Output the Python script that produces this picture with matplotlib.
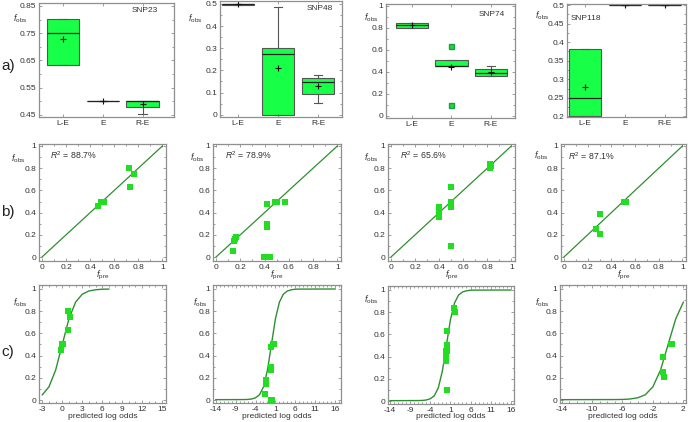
import matplotlib
matplotlib.use('Agg')
import matplotlib.pyplot as plt
import matplotlib.ticker as mticker

plt.rcParams['font.family'] = ['Liberation Sans', 'DejaVu Sans']
plt.rcParams['mathtext.fontset'] = 'custom'
plt.rcParams['mathtext.rm'] = 'Liberation Sans'
plt.rcParams['mathtext.it'] = 'Liberation Sans:italic'

W, H = 690, 422

# ---------------- data ----------------
groups = ['L-E', 'E', 'R-E']
snps = ['SNP23', 'SNP48', 'SNP74', 'SNP118']

# box stats per group: (whisker low, q1, median, q3, whisker high, mean)
snp23_box = [(0.634, 0.634, 0.75, 0.801, 0.801, 0.728),
             (0.50, 0.50, 0.50, 0.50, 0.50, 0.50),
             (0.453, 0.478, 0.50, 0.50, 0.50, 0.489)]
snp48_box = [(0.497, 0.497, 0.50, 0.50, 0.50, 0.50),
             (0.0, 0.0, 0.273, 0.30, 0.488, 0.21),
             (0.052, 0.095, 0.146, 0.165, 0.18, 0.13)]
snp74_box = [(0.796, 0.796, 0.83, 0.842, 0.842, 0.826),
             (0.455, 0.455, 0.455, 0.504, 0.504, 0.446),
             (0.364, 0.364, 0.385, 0.425, 0.455, 0.40)]
snp118_box = [(0.20, 0.20, 0.25, 0.382, 0.382, 0.278),
              (0.50, 0.50, 0.50, 0.50, 0.50, 0.50),
              (0.50, 0.50, 0.50, 0.50, 0.50, 0.50)]
snp74_fliers = [[], [0.637, 0.102], []]

# observed vs predicted frequencies
snp23_pre = [0.724, 0.763, 0.73, 0.468, 0.488, 0.515]
snp23_obs = [0.80, 0.75, 0.635, 0.455, 0.50, 0.50]
snp48_pre = [0.14, 0.152, 0.16, 0.166, 0.395, 0.406, 0.445, 0.423, 0.423, 0.423, 0.483, 0.50, 0.566]
snp48_obs = [0.05, 0.14, 0.162, 0.18, 0.0, 0.0, 0.0, 0.48, 0.30, 0.27, 0.50, 0.50, 0.50]
snp74_pre = [0.822, 0.826, 0.83, 0.40, 0.40, 0.40, 0.496, 0.496, 0.496, 0.496]
snp74_obs = [0.835, 0.80, 0.82, 0.45, 0.40, 0.36, 0.63, 0.50, 0.45, 0.10]
snp118_pre = [0.51, 0.52, 0.274, 0.30, 0.30]
snp118_obs = [0.50, 0.50, 0.255, 0.385, 0.205]
r2_labels = ['88.7%', '78.9%', '65.6%', '87.1%']

# log odds vs observed
snp23_lo = [-0.24, -0.09, 0.17, 0.82, 0.92, 1.17]
snp23_lo_obs = [0.45, 0.50, 0.50, 0.80, 0.635, 0.75]
snp48_lo = [-1.51, -1.45, -1.38, -1.3, -0.17, -0.17, -0.17, -0.09, 0.17, 0.5, 0.75]
snp48_lo_obs = [0.05, 0.14, 0.16, 0.18, 0.48, 0.30, 0.27, 0.0, 0.0, 0.50, 0.50]
snp74_lo = [1.9, 2.07, 0.25, 0.25, 0.25, -0.16, -0.16, -0.16, 0.25]
snp74_lo_obs = [0.835, 0.80, 0.63, 0.50, 0.45, 0.45, 0.40, 0.36, 0.10]
snp118_lo = [0.38, 0.56, -0.63, -0.72, -0.54]
snp118_lo_obs = [0.50, 0.50, 0.385, 0.255, 0.205]

# fitted curve
curve_lo = [-14, -7, -6, -5, -4, -3, -2, -1, 0, 1, 2, 3, 4, 5, 6, 7, 16]
curve_f = [0.003, 0.004, 0.005, 0.009, 0.02, 0.047, 0.119, 0.269, 0.50, 0.731,
           0.881, 0.953, 0.982, 0.993, 0.998, 0.999, 1.0]
curve_range = [(-3, 15), (-14, 16), (-14, 16), (-14, 2)]

# ---------------- layout ----------------
box_green = '#17ff46'
pt_green = '#22dd22'
line_green = '#2f8f2f'
frame = '#8f8f8f'
txt = '#333333'

a_rects = [(39, 3, 174, 117), (220, 1, 342, 117), (386, 4, 515, 118), (567, 4, 686, 117)]
b_rects = [(39, 144, 166, 261), (213, 144, 341, 261), (388, 144, 515, 261), (561, 144, 686, 261)]
c_rects = [(39, 285, 166, 403), (213, 285, 341, 403), (388, 286, 514, 404), (560, 285, 686, 403)]

a_xlims = [(0.4, 3.78), (0.55, 3.6), (0.34, 3.61), (0.55, 3.53)]
a_ylims = [(0.4415, 0.861), (-0.0105, 0.5135), (-0.021, 1.018), (0.1985, 0.5027)]
a_yticks = [[0.45, 0.55, 0.65, 0.75, 0.85], [0, 0.1, 0.2, 0.3, 0.4, 0.5],
            [0, 0.2, 0.4, 0.6, 0.8, 1], [0.2, 0.25, 0.3, 0.35, 0.4, 0.45, 0.5]]
c_xlims = [(-3.5, 15.6), (-14.7, 17.5), (-14.5, 16.8), (-14.2, 2.35)]
c_xticks = [[-3, 0, 3, 6, 9, 12, 15], [-14, -9, -4, 1, 6, 11, 16],
            [-14, -9, -4, 1, 6, 11, 16], [-14, -10, -6, -2, 2]]

fobs_a = [(-12, -16), (-18, -18), (-8, -14), (-18, -12)]
fobs_b = [(-14, -15), (-9, -14), (-10, -14), (-13, -12)]
fobs_c = [(-12, -18), (-6, -18), (-10, -14), (-11, -18)]
snp_pos = [(1, -16, -8, 'right'), (1, -9, -7, 'right'), (1, -10, -11, 'right'), (0, 4, -14, 'left')]
r2_pos = [(11, -11), (12, -11), (12, -11), (7, -12)]

fig = plt.figure(figsize=(W / 100, H / 100), dpi=100)


def add_px_axes(r):
    x0, y0, x1, y1 = r
    return fig.add_axes([x0 / W, 1 - y1 / H, (x1 - x0) / W, (y1 - y0) / H])


def style(ax, minor_x=True):
    for s in ax.spines.values():
        s.set_color(frame)
        s.set_linewidth(0.9)
    ax.tick_params(which='both', direction='in', top=True, right=True, color=frame,
                   width=0.6, labelsize=6, labelcolor=txt, pad=2)
    ax.tick_params(which='major', length=2.5)
    ax.tick_params(which='minor', length=1.5)
    ax.yaxis.set_minor_locator(mticker.AutoMinorLocator(2))
    if minor_x:
        ax.xaxis.set_minor_locator(mticker.AutoMinorLocator(2))
    ax.yaxis.set_major_formatter(mticker.FormatStrFormatter('%g'))


def put(ax, s, ax_x, ax_y, dx, dy, ha, size=6):
    ax.annotate(s, xy=(ax_x, ax_y), xycoords='axes fraction', xytext=(dx, dy),
                textcoords='offset pixels', ha=ha, va='center', fontsize=size, color=txt)


fobs = r'$f_{\rm obs}$'

# row a: box plots
box_sets = [snp23_box, snp48_box, snp74_box, snp118_box]
flier_sets = [[[], [], []], [[], [], []], snp74_fliers, [[], [], []]]
for i in range(4):
    ax = add_px_axes(a_rects[i])
    stats = []
    for s, fl in zip(box_sets[i], flier_sets[i]):
        lo, q1, med, q3, hi, mean = s
        stats.append(dict(whislo=lo, q1=q1, med=med, q3=q3, whishi=hi, mean=mean, fliers=fl))
    ax.bxp(stats, positions=[1, 2, 3], widths=0.82, patch_artist=True, showmeans=True,
           capwidths=0.22, manage_ticks=False,
           boxprops=dict(facecolor=box_green, edgecolor='#555555', linewidth=0.8),
           medianprops=dict(color='#222222', linewidth=0.9),
           whiskerprops=dict(color='#555555', linewidth=0.8),
           capprops=dict(color='#555555', linewidth=0.8),
           meanprops=dict(marker='+', markeredgecolor='#111111', markersize=4, markeredgewidth=0.8),
           flierprops=dict(marker='s', markerfacecolor=pt_green, markeredgecolor='#1a9a55',
                           markersize=3.6))
    ax.set_xlim(*a_xlims[i])
    ax.set_ylim(*a_ylims[i])
    ax.set_yticks(a_yticks[i])
    ax.set_xticks([1, 2, 3])
    ax.set_xticklabels(groups)
    style(ax, minor_x=False)
    put(ax, fobs, 0, 1, fobs_a[i][0], fobs_a[i][1], 'right', 6.5)
    sx, dx, dy, ha = snp_pos[i]
    put(ax, snps[i], sx, 1, dx, dy, ha, 6)

# row b: observed vs predicted
pre_sets = [snp23_pre, snp48_pre, snp74_pre, snp118_pre]
obs_sets = [snp23_obs, snp48_obs, snp74_obs, snp118_obs]
for i in range(4):
    ax = add_px_axes(b_rects[i])
    ax.plot([0, 1], [0, 1], color=line_green, lw=0.9)
    ax.plot(pre_sets[i], obs_sets[i], 's', color=pt_green, ms=4.2, mew=0)
    ax.set_xlim(-0.025, 1.03)
    ax.set_ylim(-0.036, 1.018)
    ax.set_xticks([0, 0.2, 0.4, 0.6, 0.8, 1])
    ax.set_yticks([0, 0.2, 0.4, 0.6, 0.8, 1])
    ax.xaxis.set_major_formatter(mticker.FormatStrFormatter('%g'))
    style(ax)
    put(ax, fobs, 0, 1, fobs_b[i][0], fobs_b[i][1], 'right', 6.5)
    put(ax, r'$R^2$ = ' + r2_labels[i], 0, 1, r2_pos[i][0], r2_pos[i][1], 'left', 6.3)
    put(ax, r'$f_{\rm pre}$', 0.5, 0, 0, -14, 'center', 6.5)

# row c: observed vs predicted log odds
lo_sets = [snp23_lo, snp48_lo, snp74_lo, snp118_lo]
lo_obs_sets = [snp23_lo_obs, snp48_lo_obs, snp74_lo_obs, snp118_lo_obs]
for i in range(4):
    ax = add_px_axes(c_rects[i])
    x0, x1 = curve_range[i]
    cx = [x for x in curve_lo if x0 <= x <= x1]
    cy = [f for x, f in zip(curve_lo, curve_f) if x0 <= x <= x1]
    ax.plot(cx, cy, color=line_green, lw=1.0)
    ax.plot(lo_sets[i], lo_obs_sets[i], 's', color=pt_green, ms=4.2, mew=0)
    ax.set_xlim(*c_xlims[i])
    ax.set_ylim(-0.027, 1.036)
    ax.set_xticks(c_xticks[i])
    ax.set_yticks([0, 0.2, 0.4, 0.6, 0.8, 1])
    ax.xaxis.set_major_formatter(mticker.FormatStrFormatter('%g'))
    style(ax)
    ax.xaxis.set_minor_locator(mticker.AutoMinorLocator(3 if i == 0 else (5 if i < 3 else 4)))
    put(ax, fobs, 0, 1, fobs_c[i][0], fobs_c[i][1], 'right', 6.5)
    put(ax, 'predicted log odds', 0.5, 0, 0, -13, 'center', 6)

# row labels
for lab, yc in zip(['a)', 'b)', 'c)'], [66, 212, 352]):
    fig.text(1 / W, 1 - yc / H, lab, fontsize=11, va='center', ha='left', color='#222222')

fig.savefig('out.png', dpi=100)
